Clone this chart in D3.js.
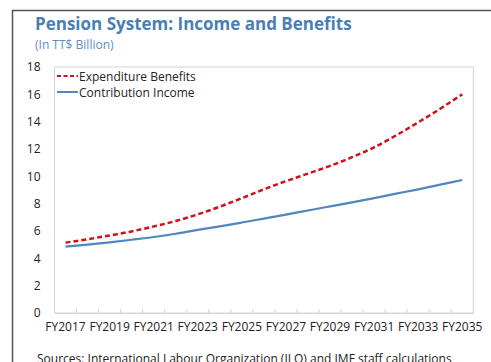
<!DOCTYPE html>
<html><head><meta charset="utf-8">
<script src="https://cdn.jsdelivr.net/npm/d3@7"></script>
<style>body{margin:0;background:#fff;}svg{display:block;font-family:"Open Sans",sans-serif;}</style>
</head><body><svg id="c" width="491" height="362"></svg>
<script>
const years = ["FY2017","FY2018","FY2019","FY2020","FY2021","FY2022","FY2023","FY2024","FY2025","FY2026","FY2027","FY2028","FY2029","FY2030","FY2031","FY2032","FY2033","FY2034","FY2035"];
const expenditure = [5.15,5.4,5.67,5.97,6.33,6.73,7.22,7.78,8.4,9.05,9.65,10.2,10.76,11.4,12.12,13.0,13.95,14.95,16.0];
const contribution = [4.85,5.0,5.17,5.36,5.56,5.8,6.08,6.34,6.62,6.91,7.2,7.5,7.8,8.1,8.41,8.73,9.05,9.39,9.73];
const yTicks = [0,2,4,6,8,10,12,14,16,18];
const seriesNames = ["Expenditure Benefits","Contribution Income"];

const svg = d3.select("#c");
const L=54.5, R=473.3, T=67, B=313;
const x = d3.scaleBand().domain(years).range([L,R]).padding(0);
const y = d3.scaleLinear().domain([0,18]).range([B,T]);

// outer frame
svg.append("path").attr("d","M12.5,362 V10.5 H491").attr("fill","none").attr("stroke","#555").attr("stroke-width",1.5);

svg.append("text").attr("x",35).attr("y",30).attr("fill","#4a7fb6").attr("font-weight","bold").attr("font-size",17).text("Pension System: Income and Benefits");
svg.append("text").attr("x",35).attr("y",49).attr("fill","#5b8ec6").attr("font-size",12).text("(In TT$ Billion)");

// plot border
svg.append("rect").attr("x",L).attr("y",T).attr("width",R-L).attr("height",B-T).attr("fill","none").attr("stroke","#d4d4d4").attr("stroke-width",1);

// y axis
const ya = svg.append("g").attr("transform",`translate(${L},0)`).call(d3.axisLeft(y).tickValues(yTicks).tickSize(0).tickPadding(14));
ya.select(".domain").remove();
ya.selectAll("text").attr("font-size",12).attr("fill","#222").attr("font-family","Open Sans");

// x axis ticks (band boundaries, pointing up)
const xa = svg.append("g").attr("transform",`translate(0,${B})`).call(d3.axisBottom(x).tickSize(0).tickPadding(9).tickFormat((d,i)=> i%2===0 ? d : ""));
xa.select(".domain").attr("stroke","#d4d4d4");
xa.selectAll("text").attr("font-size",12).attr("fill","#222").attr("font-family","Open Sans");
svg.append("g").selectAll("line").data(years.slice(1)).join("line")
  .attr("x1",d=>x(d)).attr("x2",d=>x(d)).attr("y1",B).attr("y2",B-4)
  .attr("stroke","#d4d4d4");

const line = d3.line().x((d,i)=>x(years[i])+x.bandwidth()/2).y(d=>y(d)).curve(d3.curveMonotoneX);
svg.append("path").datum(contribution).attr("d",line).attr("fill","none").attr("stroke","#4f86bd").attr("stroke-width",2.2);
svg.append("path").datum(expenditure).attr("d",line).attr("fill","none").attr("stroke","#d0101a").attr("stroke-width",2.5).attr("stroke-dasharray","5,3");

// legend
const lg = svg.append("g");
const lgs = [{n:seriesNames[0],c:"#d0101a",dash:"4,2.5",w:2.2},{n:seriesNames[1],c:"#4f86bd",dash:null,w:2}];
lgs.forEach((s,i)=>{
  const yy = 76+i*16;
  lg.append("line").attr("x1",57).attr("x2",78).attr("y1",yy).attr("y2",yy).attr("stroke",s.c).attr("stroke-width",s.w).attr("stroke-dasharray",s.dash);
  lg.append("text").attr("x",79).attr("y",yy+4.5).attr("font-size",12).attr("fill","#222").text(s.n);
});

svg.append("text").attr("x",37).attr("y",363).attr("font-size",12).attr("fill","#222").text("Sources: International Labour Organization (ILO) and IMF staff calculations");
</script></body></html>
